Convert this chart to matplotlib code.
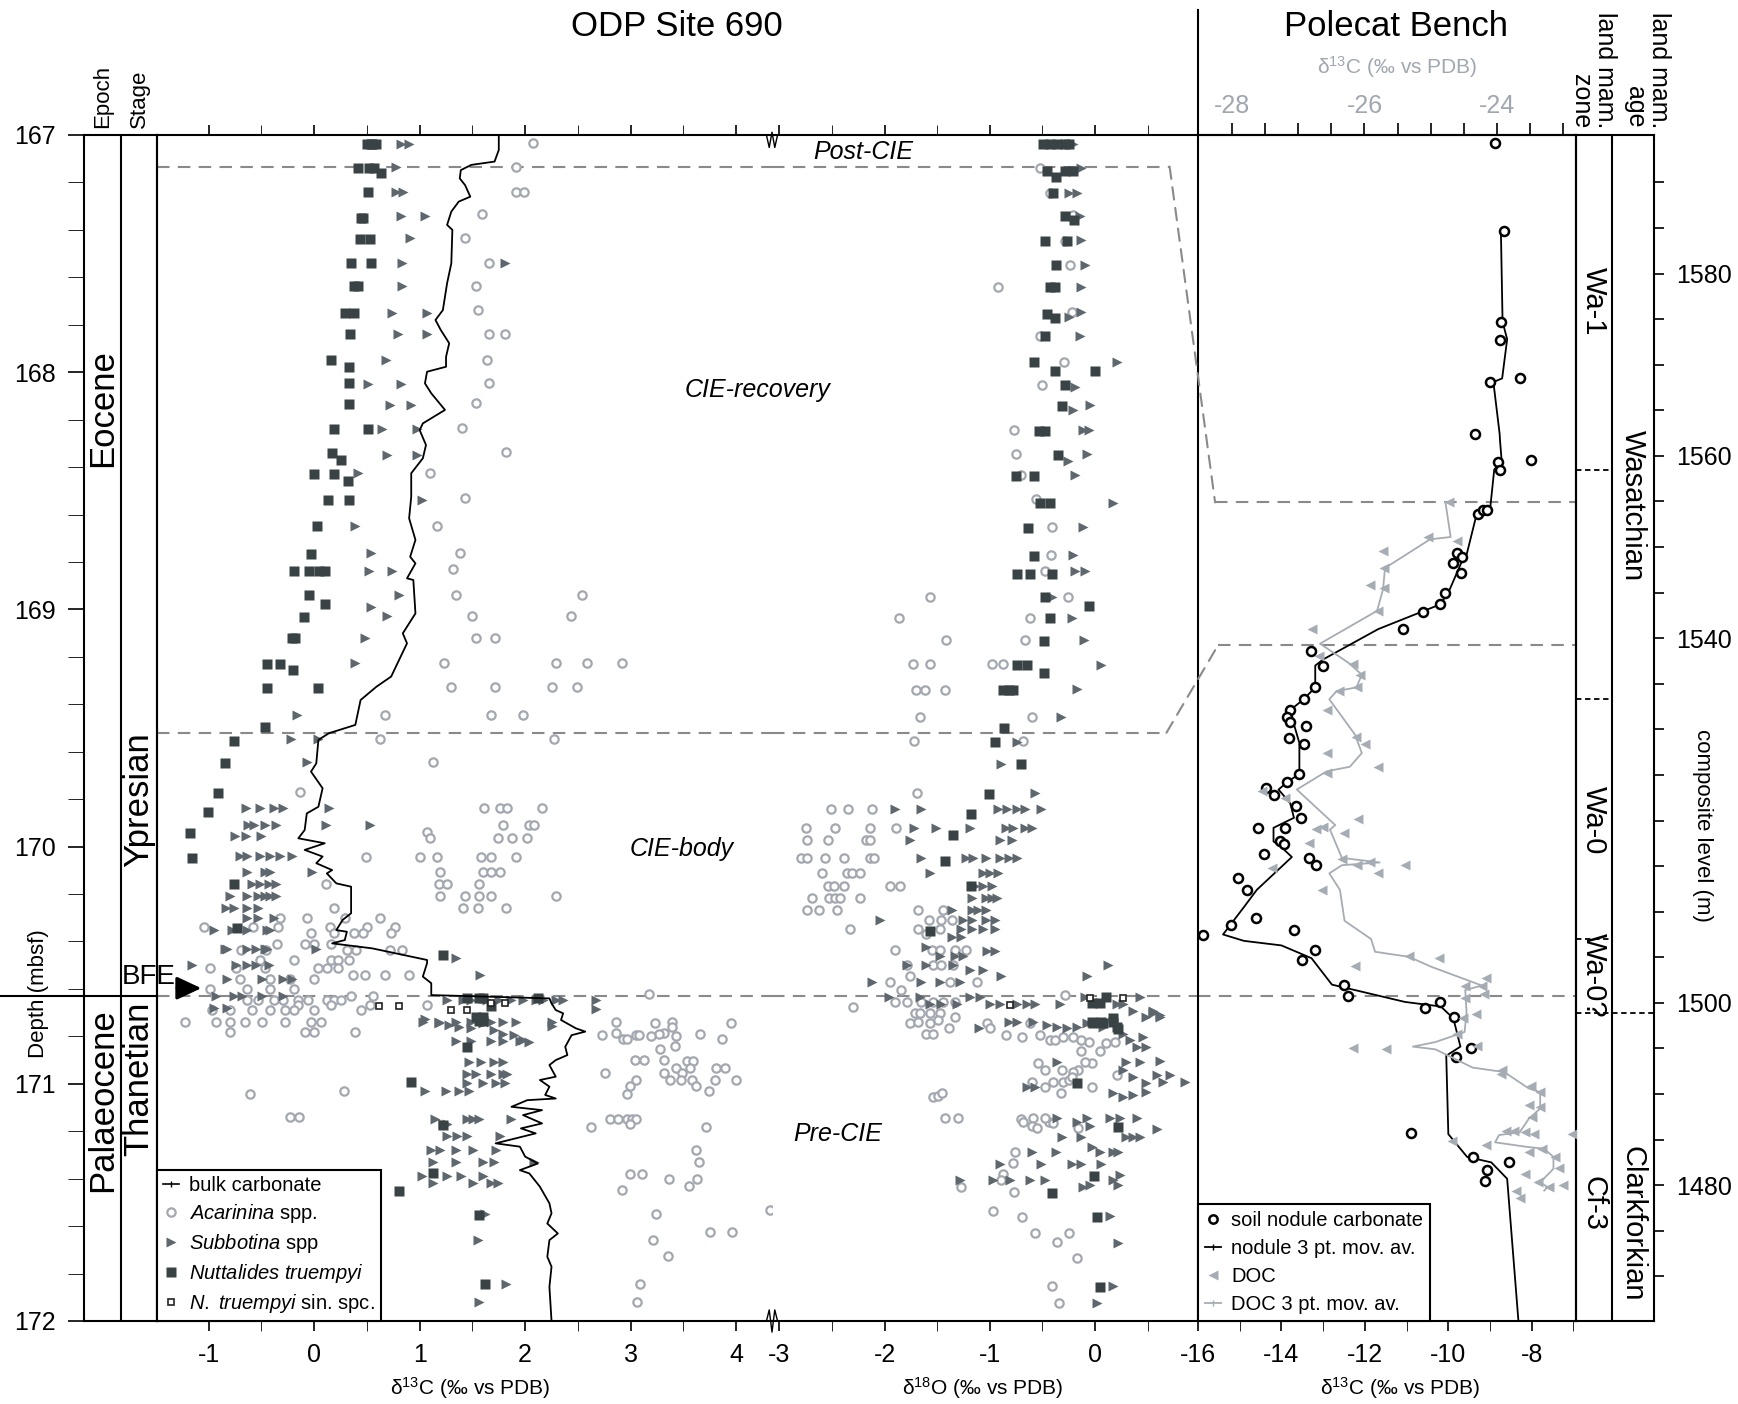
import numpy as np
import matplotlib
matplotlib.use("Agg")
import matplotlib.pyplot as plt
from matplotlib.lines import Line2D
from matplotlib.patches import ConnectionPatch
import matplotlib.transforms as mtransforms

plt.rcParams['font.family'] = ['Liberation Sans', 'DejaVu Sans']
plt.rcParams['mathtext.fontset'] = 'custom'
plt.rcParams['mathtext.rm'] = 'Liberation Sans'
plt.rcParams['mathtext.it'] = 'Liberation Sans:italic'
plt.rcParams['mathtext.default'] = 'regular'
plt.rcParams['axes.unicode_minus'] = False

##########################################################
# ODP Site 690 - d13C (depth in mbsf, value in permil)
##########################################################
bulk_depth = [167.0, 167.063, 167.112, 167.126, 167.148, 167.183, 167.211, 167.26, 167.281, 167.323,
              167.379, 167.40, 167.541, 167.625, 167.738, 167.78, 167.822, 167.878, 167.935, 167.977,
              167.998, 168.047, 168.089, 168.159, 168.216, 168.244, 168.307, 168.363, 168.426, 168.525,
              168.616, 168.707, 168.778, 168.806, 168.869, 168.876, 169.017, 169.101, 169.143, 169.283,
              169.326, 169.382, 169.487, 169.522, 169.55, 169.649, 169.684, 169.754, 169.832, 169.86,
              169.93, 169.965, 169.986, 170.014, 170.042, 170.07, 170.099, 170.113, 170.155, 170.169,
              170.281, 170.309, 170.352, 170.359, 170.394, 170.408, 170.429, 170.478, 170.492, 170.548,
              170.576, 170.626, 170.64, 170.661, 170.689, 170.703, 170.731, 170.766, 170.78, 170.795,
              170.844, 170.879, 170.9, 170.921, 170.97, 170.984, 171.012, 171.047, 171.062, 171.069,
              171.097, 171.111, 171.132, 171.167, 171.188, 171.209, 171.251, 171.265, 171.307, 171.336,
              171.364, 171.378, 171.434, 171.504, 171.546, 171.589, 171.631, 171.659, 171.729, 171.771,
              171.856, 172.0]
bulk_d13c = [1.75, 1.75, 1.71, 1.49, 1.39, 1.38, 1.43, 1.48, 1.37, 1.30,
             1.26, 1.31, 1.30, 1.26, 1.22, 1.15, 1.20, 1.28, 1.25, 1.25,
             1.07, 1.05, 1.11, 1.24, 1.03, 1.00, 1.06, 1.03, 0.92, 0.92,
             0.90, 0.96, 0.91, 0.96, 0.88, 0.94, 0.96, 0.84, 0.88, 0.73,
             0.59, 0.44, 0.39, 0.14, 0.04, 0.02, -0.03, 0.08, 0.04, -0.07,
             -0.09, -0.15, 0.10, -0.09, 0.08, 0.02, 0.17, 0.12, 0.21, 0.35,
             0.35, 0.27, 0.21, 0.31, 0.29, 0.17, 0.55, 1.07, 1.07, 1.03,
             1.11, 1.11, 2.23, 2.25, 2.29, 2.36, 2.34, 2.48, 2.57, 2.44,
             2.38, 2.40, 2.29, 2.23, 2.29, 2.14, 2.23, 2.19, 2.29, 2.02,
             1.87, 2.16, 1.98, 2.16, 1.96, 2.10, 1.72, 1.95, 2.00, 2.12,
             1.95, 2.04, 2.14, 2.23, 2.25, 2.21, 2.31, 2.23, 2.21, 2.25,
             2.23, 2.25]

acar_d13c = [
    (167.035, [2.07]), (167.133, [1.91]), (167.239, [1.91, 1.99]), (167.333, [1.59]),
    (167.436, [1.43]), (167.538, [1.66]), (167.635, [1.53]), (167.738, [1.55]),
    (167.839, [1.66, 1.81]), (167.949, [1.64]), (168.044, [1.66]), (168.131, [1.53]),
    (168.234, [1.40]), (168.338, [1.82]), (168.426, [1.10]), (168.529, [1.43]),
    (168.647, [1.16]), (168.764, [1.38]), (168.831, [1.32]), (168.939, [1.34, 2.54]),
    (169.028, [1.50, 2.43]), (169.122, [1.53, 1.71]), (169.225, [1.23, 2.29, 2.59, 2.92]),
    (169.328, [1.30, 1.71, 2.25, 2.49]), (169.445, [0.67, 1.68, 1.98]), (169.548, [0.62, 2.27]),
    (169.642, [1.13]), (169.768, [-0.13]), (169.836, [1.61, 1.76, 1.83, 2.16]),
    (169.909, [1.79, 2.04, 2.08]), (169.937, [1.07]), (169.965, [1.10, 1.74, 1.88, 2.02]),
    (170.045, [0.49, 1.00, 1.16, 1.58, 1.68, 1.91]), (170.106, [1.19, 1.60, 1.68, 1.76]),
    (170.158, [0.11, 1.18, 1.26, 1.56]), (170.208, [1.19, 1.43, 1.56, 1.68, 2.29]),
    (170.26, [0.19, 1.41, 1.55, 1.82]), (170.302, [-0.32, -0.07, 0.29, 0.62]),
    (170.34, [-1.04, -0.58, -0.34, 0.15, 0.50, 0.77]), (170.365, [-0.03, 0.19, 0.38, 0.46, 0.73]),
    (170.41, [-0.35, -0.09, 0.00, 0.16]), (170.435, [-0.69, -0.46, 0.31, 0.40, 0.72, 0.83]),
    (170.48, [-0.51, -0.19, 0.16, 0.23, 0.33]), (170.51, [-0.99, -0.74, -0.47, 0.04, 0.12, 0.23]),
    (170.54, [0.37, 0.48, 0.67, 0.90]), (170.56, [-0.70, -0.42, -0.23, 0.00]),
    (170.60, [-0.99, -0.64, -0.42, -0.19]), (170.62, [3.17]), (170.63, [0.35, 0.56]),
    (170.645, [-0.64, -0.53, -0.38, -0.30, -0.15, -0.06, 0.12, 0.19, 0.25]),
    (170.668, [-0.15, 0.16, 0.53, 1.07]),
    (170.69, [-0.97, -0.80, -0.59, -0.42, -0.28, -0.19, 0.00, 0.44]),
    (170.74, [-1.22, -0.93, -0.80, -0.66, -0.49, -0.28, -0.03, 0.06, 2.86, 3.39]),
    (170.78, [-0.80, -0.09, 0.00, 0.39]), (170.745, [3.23, 3.95]), (170.76, [3.39]),
    (170.785, [2.86, 3.32]), (170.79, [3.27, 3.66]), (170.795, [2.73, 3.05, 3.08]),
    (170.80, [3.19, 3.43]), (170.81, [2.93, 2.97, 3.87]), (170.84, [3.42]), (170.855, [3.28]),
    (170.90, [3.04, 3.13, 3.32]), (170.904, [3.53, 3.59]), (170.935, [3.43, 3.56, 3.81, 3.89]),
    (170.956, [2.76, 3.32, 3.49]), (170.985, [3.05, 3.37, 3.48, 3.58, 3.80, 4.00]),
    (171.01, [2.99, 3.62]), (171.03, [0.28, 3.74]), (171.045, [-0.61, 2.97]),
    (171.139, [-0.23, -0.14]), (171.15, [2.80, 2.88, 2.97, 3.01, 3.05]), (171.17, [2.99]),
    (171.184, [2.62, 3.71]), (171.279, [3.62]), (171.331, [3.65]), (171.38, [2.99, 3.11]),
    (171.40, [3.36, 3.63]), (171.43, [3.55]), (171.448, [2.92]), (171.53, [4.32]),
    (171.55, [3.24]), (171.624, [3.75, 3.96]), (171.659, [3.21]), (171.726, [3.35]),
    (171.844, [3.09]), (171.919, [3.06]),
]

subb_d13c = [
    (167.04, [0.82, 0.90]), (167.133, [0.78]), (167.239, [0.78, 0.84]), (167.34, [0.82, 1.05]),
    (167.436, [0.91]), (167.538, [0.83, 1.81]), (167.635, [0.83]), (167.75, [0.74, 1.07]),
    (167.839, [0.79, 1.07]), (167.949, [0.68]), (168.05, [0.51, 0.82]), (168.14, [0.72, 0.92]),
    (168.24, [0.64, 0.97]), (168.35, [0.69, 0.97]), (168.426, [0.42]), (168.54, [1.02]),
    (168.647, [0.39]), (168.764, [0.54]), (168.84, [0.52, 0.74]), (168.939, [0.80]),
    (168.99, [0.54]), (169.028, [0.69]), (169.122, [0.48]), (169.225, [0.39]),
    (169.445, [-0.16]), (169.548, [-0.22, 0.04]), (169.642, [-0.07]),
    (169.838, [-0.65, -0.51, -0.38, -0.30, 0.14]),
    (169.909, [-0.63, -0.57, -0.47, -0.36, 0.11, 0.53]), (169.955, [-0.75, -0.65, -0.50]),
    (170.04, [-0.70, -0.64, -0.51, -0.42, -0.32, -0.21]), (170.106, [-0.64, -0.47, -0.42, -0.02]),
    (170.158, [-0.59, -0.51, -0.43, -0.36]), (170.208, [-0.80, -0.64, -0.53, -0.47, -0.42, -0.36]),
    (170.26, [-0.84, -0.76, -0.64, -0.53]), (170.302, [-0.64, -0.53, -0.38]),
    (170.35, [-0.95, -0.78, -0.64, -0.45, -0.42]),
    (170.43, [-0.85, -0.83, -0.64, -0.55, -0.45, -0.47, 0.02]), (170.47, [1.34]),
    (170.50, [-1.16, -0.74, -0.64, -0.55, -0.43]), (170.54, [1.57]),
    (170.56, [-0.83, -0.49, -0.30, -0.21]), (170.63, [-0.93, -0.76, -0.68, -0.49, -0.30]),
    (170.68, [-0.95, -0.83]),
    (170.645, [1.26, 1.41, 1.49, 1.64, 1.75, 1.87, 1.98, 2.10, 2.17, 2.29, 2.36, 2.67]),
    (170.725, [1.05]), (170.745, [1.18, 1.60]), (170.752, [1.28]), (170.757, [2.25]),
    (170.76, [1.37]), (170.766, [1.49]), (170.773, [1.70]), (170.788, [1.79]), (170.795, [1.89]),
    (170.816, [1.98]), (170.823, [2.04]), (170.686, [2.67]),
    (170.74, [1.03, 1.18, 1.34, 1.49, 1.68, 1.79, 1.91, 2.25]),
    (170.82, [1.34, 1.49, 1.68, 1.79, 1.95]), (170.907, [1.47, 1.58, 1.70, 1.79]),
    (170.96, [1.45, 1.53, 1.68, 1.79, 1.83]), (170.995, [1.45, 1.60, 1.72, 1.81]),
    (171.03, [1.05, 1.25, 1.37, 1.47]), (171.15, [1.15, 1.45, 1.51, 1.56, 1.87]),
    (171.17, [1.22, 1.26]), (171.22, [1.26, 1.35, 1.45, 1.76]),
    (171.28, [1.11, 1.19, 1.34, 1.51, 1.72]), (171.33, [1.13, 1.34, 1.60, 1.70, 2.08]),
    (171.39, [1.02, 1.26, 1.39, 1.60]), (171.42, [1.13, 1.51, 1.68, 1.74]),
    (171.55, [1.62]), (171.659, [1.55]), (171.844, [1.82]), (171.919, [1.56]),
]

nutt_d13c = [
    (167.04, [0.50, 0.54, 0.55, 0.59]), (167.14, [0.42, 0.52, 0.57]), (167.16, [0.63]),
    (167.239, [0.51]), (167.35, [0.44, 0.46]), (167.44, [0.43, 0.53]), (167.54, [0.35, 0.54]),
    (167.635, [0.38, 0.42]), (167.75, [0.29, 0.38]), (167.839, [0.34]), (167.95, [0.16]),
    (167.98, [0.33]), (168.047, [0.33]), (168.134, [0.33]), (168.24, [0.19, 0.51]),
    (168.34, [0.17]), (168.37, [0.25]), (168.43, [0.00, 0.19]), (168.46, [0.32]),
    (168.54, [0.13, 0.33]), (168.647, [0.03]), (168.766, [-0.03]),
    (168.84, [-0.19, -0.05, 0.05, 0.10]), (168.94, [-0.05]), (168.976, [0.10]), (169.03, [-0.10]),
    (169.122, [-0.21, -0.18]), (169.23, [-0.45, -0.32]), (169.255, [-0.20]), (169.33, [-0.45, 0.04]),
    (169.494, [-0.47]), (169.553, [-0.76]), (169.646, [-0.85]), (169.772, [-0.91]),
    (169.853, [-1.01]), (169.941, [-1.18]), (170.05, [-1.16]), (170.158, [-0.76]),
    (170.345, [-0.73]), (170.457, [1.22]), (170.64, [1.45, 1.56, 1.60, 2.12]), (170.67, [1.68]),
    (170.72, [1.53, 1.60]), (170.735, [1.56, 1.60]), (170.844, [1.45]), (170.991, [0.92]),
    (171.174, [1.22]), (171.378, [1.13]), (171.45, [0.80]), (171.553, [1.56]), (171.846, [1.62]),
]

sinspc_d13c = [(170.67, [0.61, 0.80]), (170.69, [1.30, 1.45]), (170.66, [1.68, 1.81])]

##########################################################
# ODP Site 690 - d18O
##########################################################
nutt_d18o = [
    (167.04, [-0.49, -0.43, -0.36, -0.28, -0.25]), (167.15, [-0.46, -0.28, -0.21]), (167.175, [-0.37]),
    (167.246, [-0.40]), (167.34, [-0.28]), (167.36, [-0.20]), (167.445, [-0.47, -0.27]),
    (167.548, [-0.37]), (167.64, [-0.43, -0.38]), (167.755, [-0.46]), (167.77, [-0.38]),
    (167.847, [-0.47]), (167.958, [-0.58]), (167.993, [-0.38, 0.00]), (168.054, [-0.28]),
    (168.142, [-0.31]), (168.247, [-0.53, -0.47]), (168.349, [-0.35]), (168.436, [-0.75, -0.58]),
    (168.55, [-0.52, -0.43]), (168.658, [-0.64]), (168.773, [-0.58]), (168.85, [-0.74, -0.62, -0.41]),
    (168.946, [-0.47]), (168.986, [-0.06]), (169.038, [-0.43]), (169.133, [-0.48]),
    (169.234, [-0.74, -0.65]), (169.267, [-0.48]), (169.34, [-0.87, -0.82, -0.78]),
    (169.501, [-0.86]), (169.56, [-0.95]), (169.653, [-0.70]), (169.778, [-1.01]),
    (169.862, [-1.18]), (169.951, [-1.35]), (170.059, [-1.43]), (170.166, [-1.18]),
    (170.354, [-1.57]), (170.633, [0.11]), (170.66, [-0.03, 0.05]), (170.724, [0.17]),
    (170.745, [-0.02, 0.08]), (170.759, [0.21]), (170.74, [0.17, -0.03, 0.06]), (170.77, [0.22]),
    (170.998, [-0.17]), (171.181, [0.22]), (171.389, [-0.01]), (171.459, [-0.41]),
    (171.56, [0.02]), (171.856, [0.05]),
]

subb_d18o = [
    (167.04, [-0.21]), (167.14, [-0.13]), (167.246, [-0.25, -0.17]), (167.34, [-0.14]),
    (167.443, [-0.13]), (167.548, [-0.09]), (167.642, [-0.13]), (167.745, [-0.13]),
    (167.766, [-0.25]), (167.847, [-0.14]), (167.958, [0.21]), (168.062, [-0.19]),
    (168.14, [-0.05]), (168.16, [-0.21]), (168.244, [-0.11, -0.06]), (168.345, [-0.08]),
    (168.374, [-0.26]), (168.433, [-0.19]), (168.55, [0.17]), (168.654, [-0.11]),
    (168.77, [-0.21]), (168.84, [-0.19, -0.09]), (168.946, [-0.41]), (169.035, [-0.22]),
    (169.13, [-0.10]), (169.234, [0.06]), (169.337, [-0.17]), (169.452, [-0.32]),
    (169.558, [-0.74]), (169.652, [-0.89]), (169.775, [-0.57]),
    (169.843, [-1.90, -1.65, -0.92, -0.84, -0.74, -0.66, -0.51]),
    (169.92, [-1.72, -1.51, -1.19, -0.85, -0.78, -0.66, -0.60]), (169.972, [-1.76, -0.90, -0.79]),
    (170.05, [-1.65, -1.23, -1.16, -1.04, -0.90, -0.82, -0.74]), (170.113, [-1.57, -1.06, -1.00, -0.92]),
    (170.166, [-1.14, -1.06, -0.98]), (170.215, [-1.17, -1.04, -0.98, -0.93]),
    (170.267, [-1.36, -1.17, -1.11, -1.04]), (170.309, [-2.04, -1.25, -1.17, -1.04, -0.95]),
    (170.347, [-1.27, -1.17, -1.06, -0.95]), (170.38, [-1.36, -1.27]),
    (170.422, [-1.61]), (170.44, [-1.03, -0.95]), (170.462, [-1.47, -1.33, -1.25]),
    (170.50, [-1.79, -1.61, -1.35, 0.12]), (170.52, [-1.19, -1.06]), (170.545, [-0.89, -0.08]),
    (170.569, [-2.12, -1.65, -1.47, -1.28]), (170.636, [-1.96, -1.66, -1.19, -1.09, -0.09, 0.43]),
    (170.665, [-1.57, -1.46, -1.31, -1.00, -0.90, -0.74, -0.65, -0.57, -0.33, 0.21, 0.27]),
    (170.695, [0.36, 0.55]), (170.72, [0.49, 0.62]), (170.703, [0.55]), (170.71, [0.62]),
    (170.738, [-0.82, -0.74, -0.59]), (170.752, [-0.46]), (170.759, [-0.36, -0.17]),
    (170.745, [-0.08]), (170.766, [-1.10, -0.27]), (170.76, [0.08]),
    (170.788, [0.27]), (170.816, [0.33]), (170.844, [0.40, 0.49]), (170.802, [0.46]),
    (170.907, [-0.36, 0.30, 0.43]), (170.903, [0.62]), (170.963, [0.59, 0.71]),
    (170.991, [0.65, 0.86]), (170.942, [0.27]), (170.97, [0.36]), (170.998, [0.49]),
    (171.015, [-0.65, -0.57]), (171.04, [0.17]), (171.055, [0.27]), (171.047, [0.36]),
    (171.033, [0.49]), (171.146, [-0.36, -0.08, 0.14, 0.24, 0.40]), (171.16, [-0.17]),
    (171.177, [-0.05]), (171.191, [0.59]), (171.223, [0.30, 0.36, 0.43]), (171.226, [-0.31, -0.13]),
    (171.286, [-0.60, -0.37, 0.05, 0.17, 0.22]), (171.265, [-0.03]),
    (171.338, [-0.90, -0.51, -0.22, -0.13, 0.06]),
    (171.406, [-1.28, -0.97, -0.81, -0.62, -0.47, 0.17]), (171.434, [-0.11]),
    (171.427, [-0.05, 0.22]), (171.385, [0.24]), (171.558, [0.14]), (171.67, [0.22]),
    (171.851, [0.17]), (171.923, [0.02]),
]

acar_d18o = [
    (167.14, [-0.52]), (167.246, [-0.43]), (167.337, [-0.21]), (167.445, [-0.28]),
    (167.547, [-0.24]), (167.642, [-0.92]), (167.745, [-0.22]), (167.847, [-0.52]),
    (167.956, [-0.29]), (168.053, [-0.50]), (168.244, [-0.77]), (168.345, [-0.75]),
    (168.433, [-0.70]), (168.536, [-0.56]), (168.654, [-0.41]), (168.771, [-0.42]),
    (168.837, [-0.47]), (168.946, [-1.57, -0.26]), (169.035, [-1.86, -0.62]),
    (169.13, [-1.42, -0.66]), (169.232, [-1.73, -1.57, -0.98, -0.87]), (169.34, [-1.70, -1.62, -1.43]),
    (169.452, [-1.66, -0.60]), (169.556, [-1.72, -0.68]), (169.775, [-1.69]),
    (169.841, [-2.51, -2.35, -2.12]), (169.92, [-2.75, -2.47, -2.14, -1.89]),
    (169.972, [-2.74, -2.54, -2.18, -2.14]), (170.05, [-2.79, -2.74, -2.57, -2.39, -2.14, -2.10]),
    (170.113, [-2.59, -2.36, -2.31, -2.23]), (170.165, [-2.54, -2.48, -2.39, -1.95, -1.85]),
    (170.215, [-2.69, -2.53, -2.47, -2.42, -2.23]), (170.267, [-2.74, -2.62, -2.45, -1.68, -1.44]),
    (170.31, [-1.58, -1.46, -1.36]), (170.349, [-2.33, -1.68, -1.47]), (170.37, [-1.61]),
    (170.435, [-1.90, -1.55, -1.47, -1.33, -1.23]), (170.5, [-1.79, -1.54, -1.46, -1.35]),
    (170.545, [-1.76]), (170.569, [-1.95, -1.38, -1.12]), (170.606, [-1.84]), (170.626, [-0.28]),
    (170.655, [-1.90, -1.79, -1.65, -1.54, -1.44, -1.33]), (170.678, [-2.30]),
    (170.70, [-1.71, -1.66, -1.57, -1.47]), (170.745, [-1.76, -1.57, -1.03, -0.62]),
    (170.738, [-1.68]), (170.731, [-1.49]), (170.766, [-1.39, -1.00]), (170.788, [-1.61, -1.54]),
    (170.72, [-1.33]), (170.795, [-0.85, -0.52]), (170.804, [-0.69]), (170.816, [-0.43, -0.38, -0.13]),
    (170.802, [-0.30, -0.21]), (170.823, [-0.06, 0.19]), (170.861, [-0.13, 0.05]), (170.83, [0.11]),
    (170.911, [-0.54, -0.03]), (170.942, [-0.47, -0.31, -0.16]), (170.949, [-0.21]),
    (170.907, [-0.09]), (170.963, [0.21]), (170.991, [-0.60, -0.40, -0.30]), (171.015, [-0.47, -0.03]),
    (171.038, [-0.32]), (170.984, [-0.25]), (170.97, [-0.22]),
    (171.055, [-1.54]), (171.052, [-1.49]), (171.038, [-1.45]), (171.146, [-1.43, -1.30]),
    (171.15, [-0.70]), (171.16, [-0.68, -0.44]), (171.146, [-0.59, -0.47]), (171.178, [-0.60]),
    (171.188, [-0.55, -0.16]), (171.164, [-0.40]), (171.286, [-0.76]), (171.336, [-0.78]),
    (171.38, [-0.87]), (171.406, [-0.89]), (171.455, [-0.77]), (171.434, [-1.27]),
    (171.535, [-0.97]), (171.56, [-0.69]), (171.631, [-0.57, -0.25]), (171.666, [-0.36]),
    (171.733, [-0.17]), (171.851, [-0.41]), (171.923, [-0.34]),
]

sinspc_d18o = [(170.668, [-0.81]), (170.64, [-0.05, 0.27])]

##########################################################
# Polecat Bench (composite level in m)
##########################################################
nodule = [
    (1594.3, [-8.88]), (1584.7, [-8.67]), (1574.7, [-8.74]), (1572.7, [-8.77]), (1568.5, [-8.29]),
    (1568.1, [-8.99]), (1562.4, [-9.36]), (1559.5, [-8.02]), (1559.3, [-8.80]), (1558.5, [-8.76]),
    (1553.6, [-9.28]), (1554.1, [-9.16, -9.08]), (1549.4, [-9.80]), (1548.9, [-9.68]),
    (1548.2, [-9.88]), (1547.1, [-9.70]), (1545.0, [-10.08]), (1543.8, [-10.20]), (1542.9, [-10.60]),
    (1541.0, [-11.08]), (1538.6, [-13.29]), (1536.9, [-13.01]), (1534.6, [-13.19]), (1533.3, [-13.47]),
    (1532.1, [-13.79]), (1531.4, [-13.87]), (1530.8, [-13.79]), (1530.4, [-13.41]), (1529.0, [-13.82]),
    (1528.4, [-13.46]), (1525.1, [-13.58]), (1524.2, [-13.86]), (1523.6, [-14.37]), (1522.8, [-14.19]),
    (1521.6, [-13.66]), (1520.3, [-13.54]), (1519.2, [-13.91, -14.57]), (1517.8, [-14.03]),
    (1517.4, [-13.94]), (1516.3, [-14.42]), (1515.9, [-13.35]), (1515.1, [-13.17]), (1513.7, [-15.03]),
    (1512.4, [-14.82]), (1509.3, [-14.6]), (1508.5, [-15.2]), (1507.4, [-15.88]), (1508.0, [-13.7]),
    (1505.8, [-13.2]), (1504.7, [-13.51]), (1502.0, [-12.49]), (1500.7, [-12.40]), (1500.1, [-10.20]),
    (1499.4, [-10.57]), (1498.4, [-9.87]), (1495.1, [-9.45]), (1494.1, [-9.82]), (1485.7, [-10.90]),
    (1483.1, [-9.40]), (1482.5, [-8.54]), (1481.7, [-9.08]), (1480.5, [-9.11]),
]
nodule_avg_level = [1584.7, 1574.7, 1572.8, 1568.5, 1568.1, 1562.4, 1561.6, 1559.4, 1558.5, 1554.1,
                    1554.0, 1549.2, 1548.8, 1545.0, 1543.7, 1541.0, 1537.7, 1537.0, 1534.6, 1533.3,
                    1532.1, 1530.7, 1528.5, 1525.1, 1524.3, 1523.4, 1521.9, 1520.3, 1519.2, 1517.7,
                    1517.2, 1516.0, 1512.4, 1510.5, 1507.5, 1506.8, 1506.3, 1504.9, 1502.0, 1500.1,
                    1499.6, 1498.3, 1495.2, 1494.2, 1485.6, 1483.1, 1482.5, 1480.7, 1465.1]
nodule_avg = [-8.74, -8.70, -8.59, -8.71, -8.92, -8.77, -8.76, -8.72, -8.90, -9.00,
              -9.30, -9.56, -9.64, -10.0, -10.20, -11.68, -12.99, -13.19, -13.19, -13.47,
              -13.79, -13.71, -13.57, -13.57, -13.84, -14.07, -13.79, -13.70, -14.19, -14.19,
              -14.03, -13.75, -14.59, -14.9, -15.4, -14.9, -14.0, -13.28, -12.79, -11.04,
              -10.18, -9.88, -9.71, -10.05, -10.0, -9.55, -8.97, -8.59, -8.32]

doc = [
    (1554.9, [-24.73]), (1550.7, [-24.61]), (1551.1, [-25.04]), (1549.6, [-25.72]), (1547.7, [-25.71]),
    (1545.8, [-25.91]), (1545.5, [-25.71]), (1543.0, [-25.80]), (1541.0, [-26.79]), (1538.0, [-26.69]),
    (1537.2, [-26.18]), (1536.0, [-26.06]), (1534.6, [-26.11]), (1534.2, [-26.39]), (1532.1, [-26.56]),
    (1529.2, [-26.12]), (1528.4, [-25.99]), (1527.4, [-26.57]), (1525.9, [-25.80]), (1525.2, [-26.57]),
    (1523.2, [-27.55]), (1522.5, [-27.20]), (1520.2, [-26.09]), (1519.1, [-26.73]), (1519.3, [-26.62]),
    (1518.6, [-26.31]), (1517.5, [-26.84]), (1515.8, [-26.34]), (1515.1, [-26.11, -25.39]),
    (1515.4, [-25.91]), (1514.8, [-27.40]), (1514.2, [-25.80]), (1512.4, [-26.64]),
    (1505.1, [-25.33]), (1504.9, [-24.88]), (1504.0, [-26.15]), (1502.7, [-24.17]),
    (1501.9, [-24.48, -24.23]), (1501.0, [-24.20]), (1500.5, [-24.48]), (1498.8, [-24.32]),
    (1498.3, [-24.51]), (1496.6, [-24.60]), (1495.3, [-24.31]), (1495.1, [-26.18]), (1494.9, [-25.67]),
    (1492.6, [-23.92]), (1492.2, [-23.94]), (1490.9, [-23.49]), (1490.2, [-23.35]), (1488.8, [-23.52]),
    (1488.6, [-23.35]), (1487.5, [-23.48]), (1485.9, [-23.86, -23.75]),
    (1485.8, [-23.58]), (1485.6, [-23.44, -22.87]), (1484.8, [-24.68]), (1484.4, [-24.17]),
    (1483.6, [-23.52]), (1484.0, [-23.32]), (1483.1, [-23.12]), (1481.9, [-23.07]), (1481.2, [-23.58]),
    (1480.3, [-23.38]), (1479.8, [-23.21]), (1480.0, [-23.01]), (1479.4, [-23.72]), (1478.6, [-23.66]),
]
doc_avg_level = [1554.95, 1551.1, 1550.85, 1547.7, 1545.35, 1543.0, 1539.4, 1537.3, 1536.0, 1534.6,
                 1534.2, 1533.3, 1529.4, 1527.4, 1525.9, 1525.4, 1523.4, 1519.5, 1519.0, 1515.9,
                 1515.4, 1515.1, 1514.2, 1512.4, 1509.0, 1507.0, 1505.6, 1505.05, 1503.95, 1501.9,
                 1501.4, 1499.0, 1496.8, 1495.7, 1495.2, 1494.9, 1492.9, 1492.4, 1490.6, 1490.2,
                 1488.4, 1487.3, 1485.8, 1485.5, 1484.7, 1484.2, 1484.0, 1483.1, 1481.8, 1480.3,
                 1479.8, 1479.4]
doc_avg = [-24.78, -24.70, -25.01, -25.69, -25.72, -25.81, -26.67, -26.24, -26.04, -26.12,
           -26.42, -26.53, -26.14, -26.04, -26.22, -26.57, -27.02, -26.44, -26.52, -26.34,
           -25.77, -26.34, -26.53, -26.37, -26.3, -25.9, -25.84, -25.33, -24.99, -24.23,
           -24.48, -24.46, -24.49, -24.93, -25.27, -24.93, -24.37, -23.89, -23.52, -23.35,
           -23.35, -23.52, -23.66, -23.97, -24.03, -23.55, -23.29, -23.15, -23.15, -23.35,
           -23.24, -23.29]

# correlation tie points: ODP depth (mbsf) <-> Polecat composite level (m)
tie_depth = [167.133, 169.52]
tie_level = [1554.9, 1539.3]
tie_bend_d18o = [0.71, 0.68]
tie_bend_pb = [-15.59, -15.51]
bfe_depth = 170.63
bfe_level = 1500.7

zone_bounds = [1558.4, 1533.3, 1507.0]
age_bound = 1498.9


def expand(rows):
    d, v = [], []
    for depth, vals in rows:
        for x in vals:
            d.append(depth)
            v.append(x)
    return np.array(d), np.array(v)


ACAR = '#a3a8b0'
SUBB = '#5e676d'
NUTT = '#394244'
DOCC = '#a6acb4'
DASH = '#8a8a8a'
GREYTXT = '#a0a7b0'

W, H = 1738, 1404
TOP, BOT = 135, 1321
fig = plt.figure(figsize=(W / 100, H / 100), dpi=100)


def box(x0, x1):
    return [x0 / W, 1 - BOT / H, (x1 - x0) / W, (BOT - TOP) / H]


ax_e = fig.add_axes(box(84, 157))
ax_c = fig.add_axes(box(157, 772))
ax_o = fig.add_axes(box(772, 1198))
ax_p = fig.add_axes(box(1198, 1576))
ax_z = fig.add_axes(box(1576, 1654))

for ax in (ax_e, ax_c, ax_o):
    ax.set_ylim(172, 167)
for ax in (ax_p, ax_z):
    ax.set_ylim(1465.1, 1595.2)
for ax in (ax_e, ax_c, ax_o, ax_p, ax_z):
    for s in ax.spines.values():
        s.set_linewidth(1.5)
    ax.tick_params(width=1.2, labelsize=18, direction='out')
    ax.set_facecolor('none')

# ---- epoch / stage columns
ax_e.set_xlim(0, 1)
ax_e.set_xticks([])
ax_e.set_yticks(np.arange(167, 172.01, 1))
ax_e.set_yticks(np.arange(167, 172.01, 0.2), minor=True)
ax_e.tick_params(axis='y', which='both', length=11.5, pad=9)
ax_e.set_yticklabels(['167', '168', '169', '170', '171', '172'])
ax_e.axvline(0.507, color='k', lw=1.5)
etr = mtransforms.blended_transform_factory(ax_e.transAxes, ax_e.transData)
ax_e.plot([-1.15, 1], [bfe_depth, bfe_depth], color='k', lw=1.5, transform=etr, clip_on=False)
for txt, xx, yy in [('Eocene', 0.253, 168.15), ('Palaeocene', 0.253, 171.07),
                    ('Ypresian', 0.753, 169.80), ('Thanetian', 0.753, 170.98)]:
    ax_e.text(xx, yy, txt, transform=etr, rotation=90, ha='center', va='center', fontsize=25)
ax_e.text(0.253, 1.006, 'Epoch', transform=ax_e.transAxes, rotation=90, ha='center', va='bottom', fontsize=16)
ax_e.text(0.753, 1.006, 'Stage', transform=ax_e.transAxes, rotation=90, ha='center', va='bottom', fontsize=16)
ax_e.text(-0.62, 170.62, 'Depth (mbsf)', transform=etr, rotation=90, ha='center', va='center', fontsize=16)

# ---- d13C panel
ax_c.set_xlim(-1.49, 4.34)
ax_c.spines['right'].set_visible(False)
ax_c.set_yticks([])
ax_c.set_xticks([-1, 0, 1, 2, 3, 4])
ax_c.set_xticks([-0.5, 0.5, 1.5, 2.5, 3.5], minor=True)
ax_c.tick_params(axis='x', which='both', top=True, length=7, pad=9)

# ---- d18O panel
ax_o.set_xlim(-3.07, 0.98)
ax_o.spines['left'].set_visible(False)
ax_o.spines['right'].set_visible(False)
ax_o.set_yticks([])
ax_o.set_xticks([-3, -2, -1, 0])
ax_o.set_xticks([-2.5, -1.5, -0.5, 0.5], minor=True)
ax_o.tick_params(axis='x', which='both', top=True, length=7, pad=9)

# dashed correlation lines
for d, lv, xb, xp in zip(tie_depth, tie_level, tie_bend_d18o, tie_bend_pb):
    ax_c.axhline(d, color=DASH, lw=1.5, ls=(0, (6, 4)), zorder=1)
    ax_o.plot([-3.07, xb], [d, d], color=DASH, lw=1.5, ls=(0, (6, 4)), zorder=1)
    ax_p.plot([xp, -6.94], [lv, lv], color=DASH, lw=1.5, ls=(0, (6, 4)), zorder=1)
    con = ConnectionPatch(xyA=(xb, d), coordsA=ax_o.transData, xyB=(xp, lv), coordsB=ax_p.transData,
                          color=DASH, lw=1.5, ls=(0, (6, 4)))
    fig.add_artist(con)
ax_c.axhline(bfe_depth, color=DASH, lw=1.5, ls=(0, (6, 4)), zorder=1)
ax_o.axhline(bfe_depth, color=DASH, lw=1.5, ls=(0, (6, 4)), zorder=1)
ax_p.axhline(bfe_level, color=DASH, lw=1.5, ls=(0, (6, 4)), zorder=1)


def scatter_sets(ax, acar, subb, nutt, sinspc):
    d, v = expand(acar)
    ax.plot(v, d, ls='none', marker='o', ms=6, mfc='white', mec=ACAR, mew=1.6, zorder=3)
    d, v = expand(subb)
    ax.plot(v, d, ls='none', marker='>', ms=7.5, color=SUBB, mec='none', zorder=4)
    d, v = expand(nutt)
    ax.plot(v, d, ls='none', marker='s', ms=6.5, color=NUTT, mec='none', zorder=5)
    d, v = expand(sinspc)
    ax.plot(v, d, ls='none', marker='s', ms=5, mfc='white', mec='#222222', mew=1.2, zorder=6)


scatter_sets(ax_c, acar_d13c, subb_d13c, nutt_d13c, sinspc_d13c)
scatter_sets(ax_o, acar_d18o, subb_d18o, nutt_d18o, sinspc_d18o)
ax_c.plot(bulk_d13c, bulk_depth, color='k', lw=1.3, zorder=7)

ax_c.text(4.2, 168.075, 'CIE-recovery', style='italic', fontsize=18, ha='center', va='center', clip_on=False, zorder=8)
ax_c.text(3.48, 170.01, 'CIE-body', style='italic', fontsize=18, ha='center', va='center')
ax_o.text(-2.2, 167.07, 'Post-CIE', style='italic', fontsize=18, ha='center', va='center')
ax_o.text(-2.45, 171.21, 'Pre-CIE', style='italic', fontsize=18, ha='center', va='center')

ax_c.annotate('', xy=(-1.07, 170.597), xytext=(-1.30, 170.597),
              arrowprops=dict(arrowstyle='-|>,head_length=0.75,head_width=0.35', lw=2.2, color='k',
                              shrinkA=0, shrinkB=0, mutation_scale=20), annotation_clip=False)
ax_c.text(-1.31, 170.55, 'BFE', fontsize=20, ha='right', va='center')

leg1 = [Line2D([], [], color='k', lw=1.2, marker='|', ms=5),
        Line2D([], [], ls='none', marker='o', ms=6, mfc='white', mec=ACAR, mew=1.6),
        Line2D([], [], ls='none', marker='>', ms=7.5, color=SUBB, mec='none'),
        Line2D([], [], ls='none', marker='s', ms=6.5, color=NUTT, mec='none'),
        Line2D([], [], ls='none', marker='s', ms=5, mfc='white', mec='#222222', mew=1.2)]
lab1 = ['bulk carbonate', r'$\it{Acarinina}$ spp.', r'$\it{Subbotina}$ spp',
        r'$\it{Nuttalides\ truempyi}$', r'$\it{N.\ truempyi}$ sin. spc.']
lg = ax_c.legend(leg1, lab1, loc='lower left', bbox_to_anchor=(0, 0), borderaxespad=0, fontsize=14.5,
                 frameon=True, fancybox=False, framealpha=1, edgecolor='k', handlelength=0.8,
                 handletextpad=0.5, borderpad=0.3, labelspacing=0.35)
lg.get_frame().set_linewidth(1.5)
lg.set_zorder(20)

# break marks on the d13C / d18O junction
for yb in (0, 1):
    tr = mtransforms.Affine2D().scale(1 / 72.) + fig.dpi_scale_trans + \
        mtransforms.ScaledTranslation(1, yb, ax_c.transAxes)
    ax_c.plot([-4, -2, 0, 2, 4], [0, 8, -8, 8, 0] if yb == 0 else [0, -9, 2, -9, 0],
              color='k', lw=1.0, transform=tr, clip_on=False, zorder=10)

# ---- Polecat Bench
ax_p.set_xlim(-16, -6.94)
ax_p.set_yticks([])
ax_p.set_xticks([-16, -14, -12, -10, -8])
ax_p.set_xticks([-15, -13, -11, -9, -7], minor=True)
ax_p.tick_params(axis='x', which='both', length=7, pad=9)
ax_p.plot([0, 0], [1, 1.1054], color='k', lw=1.5, transform=ax_p.transAxes, clip_on=False)

ax_p2 = ax_p.twiny()
ax_p2.set_xlim(-28.51, -22.81)
for s in ('left', 'right', 'bottom'):
    ax_p2.spines[s].set_visible(False)
ax_p2.spines['top'].set_linewidth(1.5)
ax_p2.set_xticks([-28, -26, -24])
ax_p2.set_xticks([-27.5, -27, -26.5, -25.5, -25, -24.5, -23.5, -23], minor=True)
ax_p2.tick_params(axis='x', which='both', length=9, width=1.2, labelsize=18, labelcolor=GREYTXT, pad=3)

d, v = expand(nodule)
ax_p.plot(v, d, ls='none', marker='o', ms=6.5, mfc='white', mec='k', mew=1.8, zorder=5)
ax_p.plot(nodule_avg, nodule_avg_level, color='k', lw=1.3, zorder=4)
d, v = expand(doc)
ax_p2.plot(v, d, ls='none', marker='<', ms=7.5, color=DOCC, mec='none', zorder=3)
ax_p2.plot(doc_avg, doc_avg_level, color=DOCC, lw=1.3, zorder=2)

leg2 = [Line2D([], [], ls='none', marker='o', ms=6, mfc='white', mec='k', mew=1.8),
        Line2D([], [], color='k', lw=1.3, marker='|', ms=5),
        Line2D([], [], ls='none', marker='<', ms=7.5, color=DOCC, mec='none'),
        Line2D([], [], color=DOCC, lw=1.3, marker='|', ms=5)]
lab2 = ['soil nodule carbonate', 'nodule 3 pt. mov. av.', 'DOC', 'DOC 3 pt. mov. av.']
lg2 = ax_p2.legend(leg2, lab2, loc='lower left', bbox_to_anchor=(0, 0), borderaxespad=0, fontsize=14.5,
                   frameon=True, fancybox=False, framealpha=1, edgecolor='k', handlelength=0.8,
                   handletextpad=0.5, borderpad=0.35, labelspacing=0.45)
lg2.get_frame().set_linewidth(1.5)

# ---- land mammal zone / age columns
ax_z.set_xlim(0, 1)
ax_z.set_xticks([])
ax_z.yaxis.tick_right()
ticks = np.arange(1470, 1595, 5)
ax_z.set_yticks(ticks)
ax_z.set_yticklabels([str(t) if (t % 20 == 0 and t != 1520) else '' for t in ticks])
ax_z.tick_params(axis='y', length=7, pad=9)
ax_z.axvline(0.464, color='k', lw=1.5)
for lv in zone_bounds:
    ax_z.plot([0, 0.464], [lv, lv], color='k', lw=1.3, ls=(0, (3, 2)))
ax_z.plot([0, 1], [age_bound, age_bound], color='k', lw=1.3, ls=(0, (3, 2)))
ztr = mtransforms.blended_transform_factory(ax_z.transAxes, ax_z.transData)
for txt, xx, lv in [('Wa-1', 0.23, 1577.0), ('Wa-0', 0.23, 1520.0), ('Wa-0?', 0.23, 1503.0),
                    ('Cf-3', 0.23, 1478.0), ('Wasatchian', 0.73, 1554.5), ('Clarkforkian', 0.73, 1475.8)]:
    ax_z.text(xx, lv, txt, transform=ztr, rotation=-90, ha='center', va='center', fontsize=21)
for txt, xx in [('land mam.', 0.378), ('zone', 0.064), ('land mam.', 1.07), ('age', 0.76)]:
    ax_z.text(xx, 1.006, txt, transform=ax_z.transAxes, rotation=-90, ha='center', va='bottom', fontsize=18)
ax_z.text(1.62, 1519.5, 'composite level (m)', transform=ztr, rotation=-90, ha='center', va='center', fontsize=16)

# ---- titles and axis labels
fig.text(677 / W, 1 - 27 / H, 'ODP Site 690', ha='center', va='center', fontsize=25)
fig.text(1396 / W, 1 - 27 / H, 'Polecat Bench', ha='center', va='center', fontsize=25)
fig.text(1397 / W, 1 - 67 / H, r'δ$^{13}$C (‰ vs PDB)', ha='center', va='center', fontsize=15, color=GREYTXT)
fig.text(470 / W, 1 - 1388 / H, r'δ$^{13}$C (‰ vs PDB)', ha='center', va='center', fontsize=15)
fig.text(983 / W, 1 - 1388 / H, r'δ$^{18}$O (‰ vs PDB)', ha='center', va='center', fontsize=15)
fig.text(1400 / W, 1 - 1388 / H, r'δ$^{13}$C (‰ vs PDB)', ha='center', va='center', fontsize=15)

fig.savefig('out.png', dpi=100)
